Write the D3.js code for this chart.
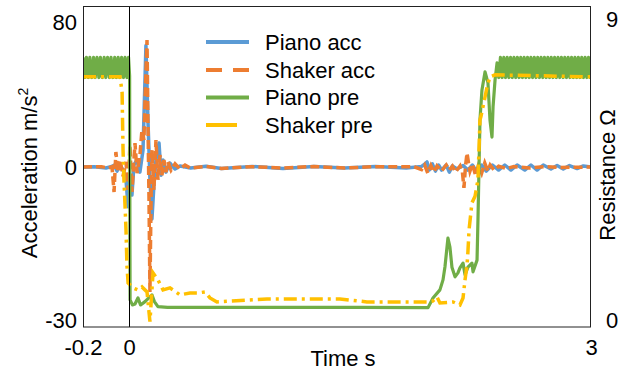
<!DOCTYPE html>
<html><head><meta charset="utf-8">
<script src="https://cdn.jsdelivr.net/npm/d3@7"></script>
<style>body{margin:0;background:#fff} text{font-family:"Liberation Sans",Arial,sans-serif}</style>
</head><body><svg id="c" width="629" height="371"></svg>
<script>
const xTicks = [-0.2, 0, 3];
const accTicks = [-30, 0, 80];
const resTicks = [0, 9];
const seriesNames = ["Piano acc", "Shaker acc", "Piano pre", "Shaker pre"];
const seriesColors = ["#5B9BD5", "#ED7D31", "#70AD47", "#FFC000"];

// [time s, acceleration m/s2]
const pianoAcc = [[-0.2,0],[-0.15,0.2],[-0.1,-0.2],[-0.075,0.3],[-0.065,1.0],[-0.052,-0.8],[-0.039,1.1],[-0.026,-0.6],[-0.013,-2.5],[-0.004,-7.8],[0.006,-1.6],[0.019,-5.5],[0.032,1.1],[0.052,3.9],[0.071,-1.0],[0.091,9.4],[0.110,67],[0.123,25.9],[0.136,-2.5],[0.143,-6.5],[0.149,-10.2],[0.162,-3.5],[0.175,3.9],[0.195,13.2],[0.208,-1.6],[0.221,3.9],[0.240,-1.0],[0.266,2.2],[0.299,-0.4],[0.331,0.55],[0.4,-0.2],[0.5,0.4],[0.6,-0.3],[0.8,0.3],[1.0,-0.3],[1.2,0.3],[1.4,-0.2],[1.6,0.3],[1.8,-0.2],[1.90,0.3],[1.92,1.6],[1.935,2.8],[1.95,-0.6],[1.97,1.7],[1.99,-0.8],[2.01,1.1],[2.03,-0.6],[2.06,1.1],[2.08,-1.0],[2.10,0.6],[2.13,-0.4],[2.17,0.8],[2.2,-0.6],[2.23,1.1],[2.26,-1.0],[2.29,1.1],[2.32,-0.8],[2.36,1.1],[2.40,-0.6],[2.44,1.1],[2.48,-0.6],[2.52,1.1],[2.57,-0.6],[2.61,1.1],[2.65,-0.6],[2.69,1.1],[2.74,-0.4],[2.78,0.8],[2.82,-0.4],[2.86,0.8],[2.91,-0.3],[2.95,0.6],[3.0,0]];

const shakerAcc = [[-0.2,0],[-0.12,0.2],[-0.09,-0.2],[-0.074,0.2],[-0.065,-4.9],[-0.057,8.3],[-0.048,-1.0],[-0.039,3.9],[-0.026,-1.8],[-0.013,2.8],[-0.004,-4.5],[0.006,12.1],[0.019,-4.9],[0.039,13.2],[0.052,-1.2],[0.071,6.6],[0.084,20.4],[0.097,14.9],[0.104,37],[0.117,70],[0.123,25.9],[0.130,-6.5],[0.136,-24.5],[0.143,-6.5],[0.149,9.4],[0.162,-4.5],[0.175,14.9],[0.188,-2.5],[0.201,6.6],[0.214,-1.6],[0.227,3.9],[0.240,-1.0],[0.253,2.8],[0.273,-0.6],[0.299,1.7],[0.331,-0.4],[0.364,1.1],[0.396,-0.2],[0.5,0.3],[0.6,-0.3],[0.8,0.2],[1.0,-0.2],[1.2,0.3],[1.4,-0.2],[1.6,0.2],[1.85,0.2],[1.90,-0.5],[1.92,1.1],[1.94,-1.2],[1.96,0.8],[1.98,-1.0],[2.0,0.6],[2.03,-0.8],[2.06,1.1],[2.08,-0.6],[2.10,0.4],[2.12,-1.0],[2.15,0.6],[2.165,-1.0],[2.175,-4.1],[2.185,0.5],[2.195,7.7],[2.205,2.0],[2.214,-0.8],[2.23,1.7],[2.25,-1.6],[2.27,1.1],[2.29,-1.2],[2.31,2.2],[2.33,-0.8],[2.345,1.1],[2.37,-0.6],[2.40,0.4],[2.45,-0.3],[2.5,0.2],[2.6,-0.2],[2.7,0.2],[2.8,-0.1],[3.0,0]];

// [time s, resistance ohm]
const pianoPre = [[-0.200,7.85],[-0.192,7.25],[-0.185,7.85],[-0.177,7.25],[-0.170,7.85],[-0.162,7.25],[-0.154,7.85],[-0.147,7.25],[-0.139,7.85],[-0.131,7.25],[-0.124,7.85],[-0.116,7.25],[-0.108,7.85],[-0.101,7.25],[-0.093,7.85],[-0.085,7.25],[-0.078,7.85],[-0.070,7.25],[-0.062,7.85],[-0.055,7.25],[-0.047,7.85],[-0.040,7.25],[-0.032,7.85],[-0.024,7.25],[-0.017,7.85],[-0.009,7.25],[-0.002,7.85],[0.004,7.3],[0.007,0.6],[0.022,0.45],[0.039,0.48],[0.058,0.66],[0.075,0.45],[0.104,0.55],[0.149,0.75],[0.165,0.55],[0.188,0.40],[0.25,0.38],[0.6,0.38],[1.0,0.38],[1.5,0.38],[1.942,0.37],[1.974,0.66],[2.019,0.9],[2.039,1.2],[2.052,1.6],[2.071,2.45],[2.084,2.18],[2.097,1.58],[2.117,1.29],[2.136,1.41],[2.149,1.56],[2.169,1.70],[2.182,1.35],[2.201,1.58],[2.227,1.70],[2.234,1.44],[2.260,1.79],[2.266,2.99],[2.279,5.98],[2.292,6.88],[2.312,7.42],[2.331,7.09],[2.344,5.98],[2.357,5.47],[2.364,6.37],[2.377,7.18],[2.390,7.69],[2.401,7.25],[2.412,7.85],[2.423,7.25],[2.434,7.85],[2.445,7.25],[2.456,7.85],[2.467,7.25],[2.478,7.85],[2.489,7.25],[2.500,7.85],[2.511,7.25],[2.522,7.85],[2.533,7.25],[2.544,7.85],[2.555,7.25],[2.566,7.85],[2.577,7.25],[2.588,7.85],[2.599,7.25],[2.610,7.85],[2.621,7.25],[2.632,7.85],[2.643,7.25],[2.654,7.85],[2.665,7.25],[2.676,7.85],[2.687,7.25],[2.698,7.85],[2.709,7.25],[2.720,7.85],[2.731,7.25],[2.742,7.85],[2.753,7.25],[2.764,7.85],[2.775,7.25],[2.786,7.85],[2.797,7.25],[2.808,7.85],[2.819,7.25],[2.830,7.85],[2.841,7.25],[2.852,7.85],[2.863,7.25],[2.874,7.85],[2.885,7.25],[2.896,7.85],[2.907,7.25],[2.918,7.85],[2.929,7.25],[2.940,7.85],[2.951,7.25],[2.962,7.85],[2.973,7.25],[2.984,7.85],[2.995,7.25],[3.0,7.6]];

const shakerPre = [[-0.2,7.27],[-0.039,7.27],[-0.030,6.8],[-0.026,5.1],[-0.022,4.2],[-0.013,2.7],[-0.009,1.64],[-0.004,1.11],[0.026,0.96],[0.058,0.9],[0.084,0.99],[0.117,0.84],[0.136,-0.05],[0.156,1.41],[0.188,1.20],[0.221,0.90],[0.266,0.96],[0.331,0.75],[0.396,0.81],[0.448,0.81],[0.494,0.84],[0.526,0.66],[0.571,0.54],[0.896,0.63],[1.26,0.63],[1.37,0.63],[1.545,0.54],[1.844,0.54],[1.935,0.54],[1.974,0.57],[2.0,0.69],[2.019,0.51],[2.104,0.54],[2.149,0.45],[2.169,0.66],[2.182,1.20],[2.195,1.65],[2.201,2.05],[2.208,2.69],[2.221,3.25],[2.227,3.5],[2.247,3.7],[2.266,4.19],[2.279,5.98],[2.286,6.1],[2.312,6.67],[2.325,6.97],[2.344,7.27],[2.377,7.33],[3.0,7.27]];

const svg = d3.select("#c");
const L = 83, R = 591, T = 7, B = 327;
const x = d3.scaleLinear().domain([-0.2, 0, 3]).range([83, 129, 591]);
const yAcc = d3.scaleLinear().domain([-30, 0, 80]).range([320, 167, 22]);
const yRes = d3.scaleLinear().domain([0, 9]).range([320, 19]);

svg.append("clipPath").attr("id","clip").append("rect")
  .attr("x", L).attr("y", T).attr("width", R - L).attr("height", B - T);

const g = svg.append("g").attr("clip-path","url(#clip)");
const lineAcc = d3.line().x(d => x(d[0])).y(d => yAcc(d[1]));
const lineRes = d3.line().x(d => x(d[0])).y(d => yRes(d[1]));

g.append("path").datum(pianoAcc).attr("d", lineAcc).attr("fill","none")
  .attr("stroke", seriesColors[0]).attr("stroke-width", 3.5).attr("stroke-linejoin","round");
g.append("path").datum(shakerAcc).attr("d", lineAcc).attr("fill","none")
  .attr("stroke", seriesColors[1]).attr("stroke-width", 3.5).attr("stroke-dasharray","9,4");
g.append("path").datum(pianoPre).attr("d", lineRes).attr("fill","none")
  .attr("stroke", seriesColors[2]).attr("stroke-width", 3.2).attr("stroke-linejoin","round");
g.append("path").datum(shakerPre).attr("d", lineRes).attr("fill","none")
  .attr("stroke", seriesColors[3]).attr("stroke-width", 3.5).attr("stroke-dasharray","13,5,3,5");

// zero time line
svg.append("line").attr("x1", x(0) + 0.5).attr("x2", x(0) + 0.5).attr("y1", T).attr("y2", B)
  .attr("stroke", "#000").attr("stroke-width", 1);

// frame
svg.append("rect").attr("x", L + 0.5).attr("y", T - 0.5).attr("width", R - L - 1).attr("height", B - T + 0.5)
  .attr("fill","none").attr("stroke","#222").attr("stroke-width",1);

const fs = 22;
const axL = svg.append("g").attr("transform", `translate(${L},0)`)
  .call(d3.axisLeft(yAcc).tickValues(accTicks).tickSize(0).tickPadding(6).tickFormat(d => String(d)));
const axR = svg.append("g").attr("transform", `translate(${R},0)`)
  .call(d3.axisRight(yRes).tickValues(resTicks).tickSize(0).tickPadding(15).tickFormat(d => String(d)));
const axB = svg.append("g").attr("transform", `translate(0,${B})`)
  .call(d3.axisBottom(x).tickValues(xTicks).tickSize(0).tickPadding(12).tickFormat(d => String(d)));
[axL, axR, axB].forEach(a => {
  a.select(".domain").remove();
  a.selectAll("text").attr("font-size", fs).attr("fill", "#000")
    .style("font-family", '"Liberation Sans", Arial, sans-serif');
});

// axis titles
svg.append("text").attr("transform", "translate(37,173) rotate(-90)")
  .attr("text-anchor", "middle").attr("font-size", fs).attr("fill", "#000")
  .text("Acceleration m/s")
  .append("tspan").attr("font-size", 14).attr("dy", -9).text("2");
svg.append("text").attr("transform", "translate(615,175) rotate(-90)")
  .attr("text-anchor", "middle").attr("font-size", fs).attr("fill", "#000")
  .text("Resistance Ω");
svg.append("text").attr("x", 343).attr("y", 366)
  .attr("text-anchor", "middle").attr("font-size", fs).attr("fill", "#000")
  .text("Time s");

// legend
const legRows = [42, 70, 97.5, 125];
const legDash = [null, "16,11", null, null];
const legLen = [43, 43, 43, 31];
seriesNames.forEach((n, i) => {
  svg.append("line").attr("x1", 206).attr("x2", 206 + legLen[i])
    .attr("y1", legRows[i]).attr("y2", legRows[i])
    .attr("stroke", seriesColors[i]).attr("stroke-width", 4)
    .attr("stroke-dasharray", legDash[i]);
  svg.append("text").attr("x", 265).attr("y", legRows[i]).attr("dy", "0.35em")
    .attr("font-size", fs).attr("fill", "#000").text(n);
});
</script>
</body></html>
